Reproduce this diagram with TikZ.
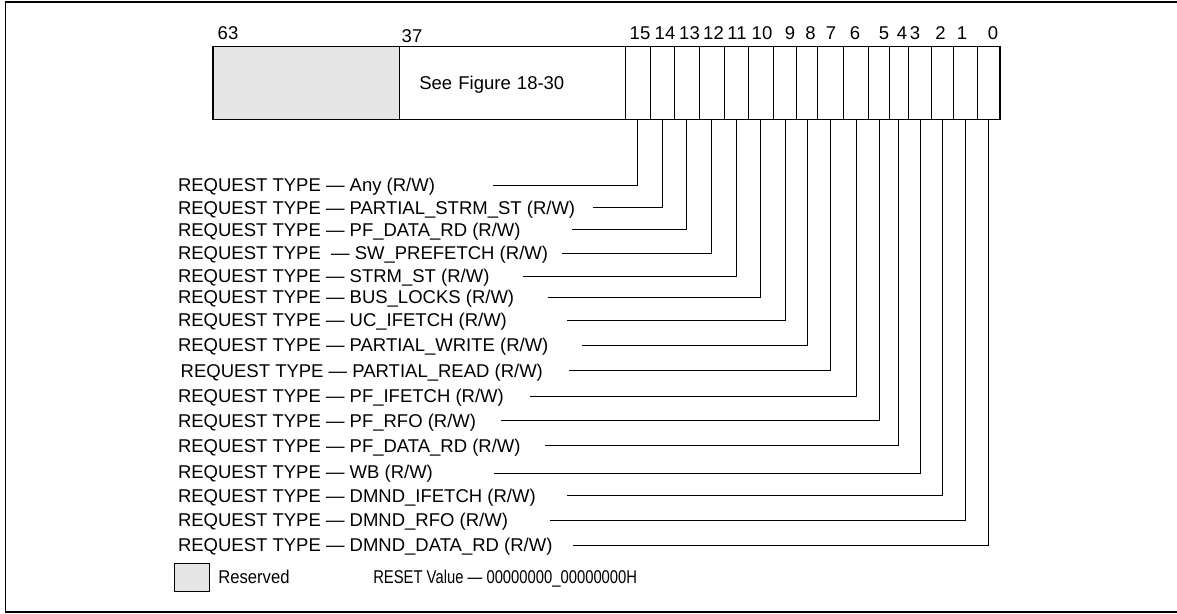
\documentclass[tikz,border=0pt]{standalone}
\usepackage{fontspec}
\setmainfont{Liberation Sans}
\newfontfamily\resfont[FakeStretch=0.9]{Liberation Sans}
\newfontfamily\narrowsans[FakeStretch=0.8]{Liberation Sans}
\usepackage{xcolor}
\usepackage{tikz}
\usetikzlibrary{positioning}

\begin{document}
\begin{tikzpicture}[x=1pt,y=-1pt,
  every node/.style={font=\fontsize{18.5}{22}\selectfont,inner sep=0pt,outer sep=0pt},
  cell/.style={draw,line width=0.8pt,minimum height=73pt,anchor=north west},
  bitno/.style={text height=13.3pt,text depth=0pt},
  reqlbl/.style={anchor=west,text height=13.3pt,text depth=0pt},
  lead/.style={line width=0.8pt}]
  \useasboundingbox (0,0) rectangle (1177,613);
  \draw[line width=1.5pt] (1177,2) -| (5.7,612) -- (1177,612);
  % register fields
  \node[cell,fill=black!10,minimum width=186.3pt] (res) at (213,46.7) {};
  \node[cell,text width=185.7pt,inner xsep=20pt,align=left,text height=13.3pt,text depth=0pt] (see) at (399.3,46.7) {See Figure 18-30};
  \node[cell,minimum width=25pt] (c15) at (625,46.7) {};
  \node[cell,minimum width=24pt] (c14) at (650,46.7) {};
  \node[cell,minimum width=25.3pt] (c13) at (674,46.7) {};
  \node[cell,minimum width=24.7pt] (c12) at (699.3,46.7) {};
  \node[cell,minimum width=24.3pt] (c11) at (724,46.7) {};
  \node[cell,minimum width=25pt] (c10) at (748.3,46.7) {};
  \node[cell,minimum width=23.4pt] (c9) at (773.3,46.7) {};
  \node[cell,minimum width=21pt] (c8) at (796.7,46.7) {};
  \node[cell,minimum width=25.6pt] (c7) at (817.7,46.7) {};
  \node[cell,minimum width=25.4pt] (c6) at (843.3,46.7) {};
  \node[cell,minimum width=20.6pt] (c5) at (868.7,46.7) {};
  \node[cell,minimum width=19pt] (c4) at (889.3,46.7) {};
  \node[cell,minimum width=23.4pt] (c3) at (908.3,46.7) {};
  \node[cell,minimum width=21.6pt] (c2) at (931.7,46.7) {};
  \node[cell,minimum width=24pt] (c1) at (953.3,46.7) {};
  \node[cell,minimum width=22.7pt] (c0) at (977.3,46.7) {};
  \draw[line width=1.3pt] (res.north west) rectangle (c0.south east);
  % bit numbers
  \node[bitno] (n63) at (228,33.3) {63};
  \node[bitno] (n37) at (412,35.7) {37};
  \node[bitno] (n15) at (640,33.3) {15};
  \node[bitno] (n14) at (665,33.3) {14};
  \node[bitno] (n13) at (689.5,33.3) {13};
  \node[bitno] (n12) at (713.5,33.3) {12};
  \node[bitno] (n11) at (737,33.3) {11};
  \node[bitno] (n10) at (762,33.3) {10};
  \node[bitno] (n9) at (790,33.3) {9};
  \node[bitno] (n8) at (810.5,33.3) {8};
  \node[bitno] (n7) at (831,33.3) {7};
  \node[bitno] (n6) at (855,33.3) {6};
  \node[bitno] (n5) at (884,33.3) {5};
  \node[bitno] (n4) at (902,33.3) {4};
  \node[bitno] (n3) at (915,33.3) {3};
  \node[bitno] (n2) at (940.5,33.3) {2};
  \node[bitno] (n1) at (962,33.3) {1};
  \node[bitno] (n0) at (993,33.3) {0};
  % request type labels
  \node[reqlbl] (r15) at (178,185) {REQUEST TYPE — Any (R/W)};
  \node[reqlbl] (r14) at (178,207.5) {REQUEST TYPE — PARTIAL\_STRM\_ST (R/W)};
  \node[reqlbl] (r13) at (178,229.5) {REQUEST TYPE — PF\_DATA\_RD (R/W)};
  \node[reqlbl] (r12) at (178,253.3) {REQUEST TYPE \ — SW\_PREFETCH (R/W)};
  \node[reqlbl] (r11) at (178,276.3) {REQUEST TYPE — STRM\_ST (R/W)};
  \node[reqlbl] (r10) at (178,297.3) {REQUEST TYPE — BUS\_LOCKS (R/W)};
  \node[reqlbl] (r9) at (178,320.3) {REQUEST TYPE — UC\_IFETCH (R/W)};
  \node[reqlbl] (r8) at (178,345.3) {REQUEST TYPE — PARTIAL\_WRITE (R/W)};
  \node[reqlbl] (r7) at (180.7,370.5) {REQUEST TYPE — PARTIAL\_READ (R/W)};
  \node[reqlbl] (r6) at (178,396.3) {REQUEST TYPE — PF\_IFETCH (R/W)};
  \node[reqlbl] (r5) at (178,420.5) {REQUEST TYPE — PF\_RFO (R/W)};
  \node[reqlbl] (r4) at (178,445.5) {REQUEST TYPE — PF\_DATA\_RD (R/W)};
  \node[reqlbl] (r3) at (178,471.5) {REQUEST TYPE — WB (R/W)};
  \node[reqlbl] (r2) at (178,495.5) {REQUEST TYPE — DMND\_IFETCH (R/W)};
  \node[reqlbl] (r1) at (178,520.3) {REQUEST TYPE — DMND\_RFO (R/W)};
  \node[reqlbl] (r0) at (178,545.3) {REQUEST TYPE — DMND\_DATA\_RD (R/W)};
  % leader starts
  \coordinate (s15) at (493,185);
  \coordinate (s14) at (593,207.5);
  \coordinate (s13) at (572,229.5);
  \coordinate (s12) at (562,253.3);
  \coordinate (s11) at (523,276.3);
  \coordinate (s10) at (548,297.3);
  \coordinate (s9) at (567,320.3);
  \coordinate (s8) at (582,345.3);
  \coordinate (s7) at (569,370.5);
  \coordinate (s6) at (530,396.3);
  \coordinate (s5) at (501,420.5);
  \coordinate (s4) at (545,445.5);
  \coordinate (s3) at (494,473.3);
  \coordinate (s2) at (567,495.5);
  \coordinate (s1) at (550,520.3);
  \coordinate (s0) at (573,545.3);
  \draw[lead] (s15) -| (c15.south);
  \draw[lead] (s14) -| (c14.south);
  \draw[lead] (s13) -| (c13.south);
  \draw[lead] (s12) -| (c12.south);
  \draw[lead] (s11) -| (c11.south);
  \draw[lead] (s10) -| (c10.south);
  \draw[lead] (s9) -| (c9.south);
  \draw[lead] (s8) -| (c8.south);
  \draw[lead] (s7) -| (c7.south);
  \draw[lead] (s6) -| (c6.south);
  \draw[lead] (s5) -| (c5.south);
  \draw[lead] (s4) -| (c4.south);
  \draw[lead] (s3) -| (c3.south);
  \draw[lead] (s2) -| (c2.south);
  \draw[lead] (s1) -| (c1.south);
  \draw[lead] (s0) -| (c0.south);
  % legend and reset value
  \node[draw,fill=black!10,line width=0.8pt,minimum width=35.3pt,minimum height=28pt,anchor=north west] (legbox) at (174,563.3) {};
  \node[right=9pt of legbox,text height=13.3pt,text depth=0pt,font=\fontsize{18.5}{22}\resfont] (legtext) {Reserved};
  \node[anchor=west,text height=13.3pt,text depth=0pt,font=\fontsize{18.5}{22}\narrowsans] (reset) at (373.3,576.5) {RESET Value — 00000000\_00000000H};
\end{tikzpicture}
\end{document}
